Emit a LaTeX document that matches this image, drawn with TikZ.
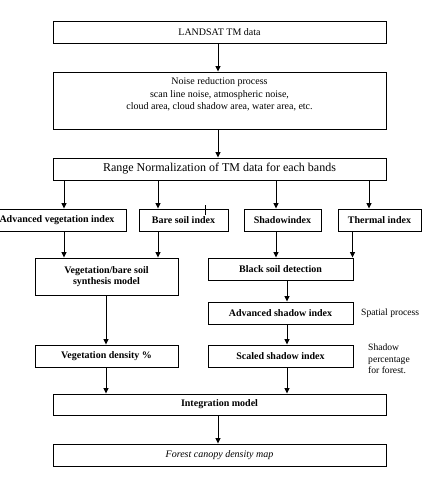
\documentclass[tikz,border=0pt]{standalone}
\usepackage{fontspec}
\setmainfont{Liberation Serif}
\usetikzlibrary{arrows.meta}
\begin{document}
\begin{tikzpicture}[x=1pt,y=-1pt,
  box/.style={draw,line width=0.9pt,inner sep=0pt,font=\fontsize{10}{11}\selectfont},
  bbox/.style={box,font=\fontsize{10}{11.5}\selectfont\bfseries},
  arr/.style={line width=0.9pt,-{Triangle[width=5pt,length=5.5pt]}},
  note/.style={font=\fontsize{9.6}{11.5}\selectfont,align=left,inner sep=0pt}]
\useasboundingbox (0,0) rectangle (442,480);
\node[box,minimum width=333,minimum height=22] (land) at (219.5,32) {LANDSAT TM data};
\node[box,minimum width=333,minimum height=57] (noise) at (219.5,100.5) {};
\node[align=center,inner sep=0pt,font=\fontsize{10}{12.5}\selectfont] (noisetext) at (219.5,94.5) {Noise reduction process\\scan line noise, atmospheric noise,\\cloud area, cloud shadow area, water area, etc.};
\node[box,minimum width=333,minimum height=22,font=\fontsize{12}{13}\selectfont] (range) at (219.5,169) {Range Normalization of TM data for each bands};
\node[bbox,minimum width=138,minimum height=22] (avi) at (57,220) {Advanced vegetation index};
\node[bbox,minimum width=89,minimum height=22] (bsi) at (183.5,220) {Bare soil index};
\node[bbox,minimum width=77,minimum height=22] (shi) at (282.5,220) {Shadowindex};
\node[bbox,minimum width=83,minimum height=22] (thi) at (379.5,220) {Thermal index};
\node[bbox,minimum width=143,minimum height=37,align=center] (synth) at (106.5,276.5) {Vegetation/bare soil\\synthesis model};
\node[bbox,minimum width=145,minimum height=22] (black) at (280.5,269) {Black soil detection};
\node[bbox,minimum width=145,minimum height=22] (adv) at (280.5,313) {Advanced shadow index};
\node[bbox,minimum width=145,minimum height=22] (scaled) at (280.5,356) {Scaled shadow index};
\node[bbox,minimum width=143,minimum height=22] (vegden) at (106.5,356) {Vegetation density \%};
\node[bbox,minimum width=333,minimum height=21] (integ) at (219.5,404.5) {Integration model};
\node[box,minimum width=333,minimum height=22,font=\fontsize{10}{11}\selectfont\itshape] (forest) at (219.5,455) {Forest canopy density map};
\node[note,anchor=west] (spatial) at (361,313) {Spatial process};
\node[note,anchor=north west] (shadowpct) at (368,344) {Shadow\\percentage\\for forest.};
\coordinate (c64) at (64,0);
\coordinate (c106) at (106,0);
\coordinate (c158) at (158,0);
\coordinate (c218) at (218,0);
\coordinate (c276) at (276,0);
\coordinate (c287) at (287,0);
\coordinate (c353) at (352.5,0);
\coordinate (c369) at (369,0);
\draw[arr] (land.south -| c218) -- (noise.north -| c218);
\draw[arr] (noise.south -| c218) -- (range.north -| c218);
\draw[arr] (range.south -| c64) -- (avi.north -| c64);
\draw[arr] (range.south -| c158) -- (bsi.north -| c158);
\draw[arr] (range.south -| c276) -- (shi.north -| c276);
\draw[arr] (range.south -| c369) -- (thi.north -| c369);
\draw[arr] (avi.south -| c64) -- (synth.north -| c64);
\draw[arr] (bsi.south -| c158) -- (synth.north -| c158);
\draw[arr] (shi.south -| c276) -- (black.north -| c276);
\draw[arr] (thi.south -| c353) -- (black.north -| c353);
\draw[arr] (black.south -| c287) -- (adv.north -| c287);
\draw[arr] (adv.south -| c287) -- (scaled.north -| c287);
\draw[arr] (synth.south -| c106) -- (vegden.north -| c106);
\draw[arr] (vegden.south -| c106) -- (integ.north -| c106);
\draw[arr] (scaled.south -| c287) -- (integ.north -| c287);
\draw[arr] (integ.south -| c218) -- (forest.north -| c218);
\coordinate (tick) at (205,205);
\draw[line width=0.9pt] (tick) -- ++(0,10);
\end{tikzpicture}
\end{document}
